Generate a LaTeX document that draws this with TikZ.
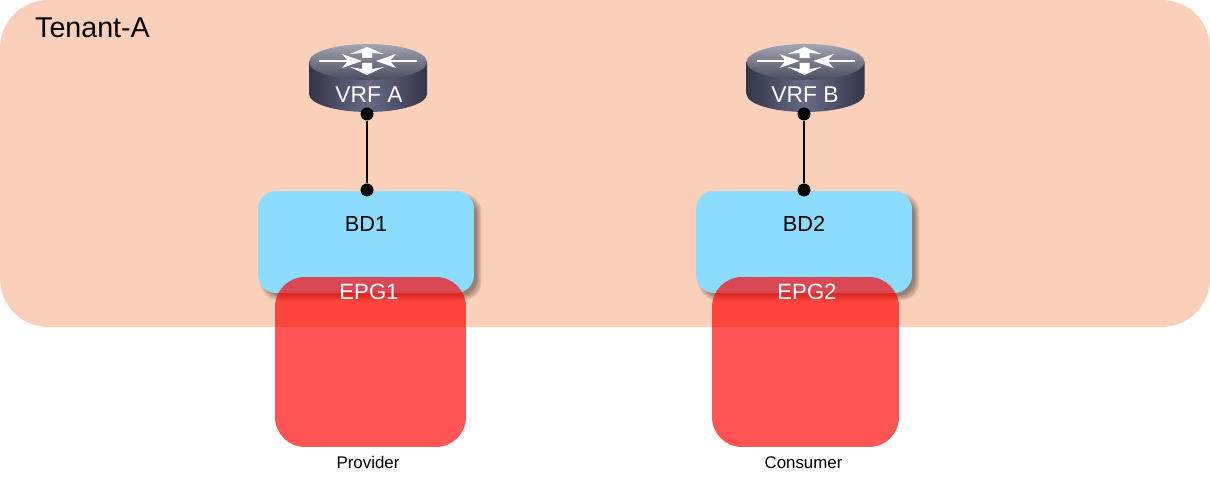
\documentclass[tikz,border=0pt]{standalone}
\usepackage{fontspec}
\setmainfont{Liberation Sans}
\definecolor{tenantfill}{HTML}{FBD0BB}
\definecolor{bdfill}{HTML}{8CDCFF}
\definecolor{epgfill}{HTML}{FF0000}
\definecolor{vrfdark}{HTML}{34364A}
\definecolor{vrfmid}{HTML}{666A85}
\definecolor{vrftop}{HTML}{A3A5B3}
\definecolor{vrfbot}{HTML}{4A4C60}
\tikzset{
  tenantbox/.style={rectangle, fill=tenantfill, rounded corners=0.96cm, minimum width=24.2cm, minimum height=6.54cm, inner sep=0pt},
  bdbox/.style={rectangle, fill=bdfill, rounded corners=0.36cm, minimum width=4.32cm, minimum height=2.04cm, inner sep=0pt},
  bdshade/.style={rectangle, fill=black, fill opacity=0.08, rounded corners=0.36cm, inner sep=0pt, minimum height=2.04cm},
  epgbox/.style={rectangle, fill=epgfill, fill opacity=0.67, rounded corners=0.6cm, minimum height=3.4cm, inner sep=0pt},
  whitetxt/.style={text=white, font=\fontsize{12.6}{14}\selectfont, inner sep=0pt},
  vrftxt/.style={text=white, font=\fontsize{13}{15}\selectfont, inner sep=0pt},
  blacktxt/.style={text=black, font=\fontsize{12.4}{14}\selectfont, inner sep=0pt},
  smalltxt/.style={text=black, font=\fontsize{9.6}{12}\selectfont, inner sep=0pt},
  dotnode/.style={circle, fill=black, minimum size=0.26cm, inner sep=0pt},
  vrficon/.pic={
    % side of the cylinder
    \path [left color=vrfdark, right color=vrfdark, middle color=vrfmid]
      (-59,0) -- (-59,32) arc [start angle=180, end angle=0, x radius=59, y radius=18] -- (59,0) -- cycle;
    \path [top color=vrftop, bottom color=vrfbot] (0,0) ellipse [x radius=59, y radius=18];
    % the four arrows
    \draw [white, line width=0.05cm] (-49,-1) -- (-15,-1);
    \fill [white] (-6,-1) -- (-26,-8) -- (-20,-1) -- (-26,6) -- cycle;
    \draw [white, line width=0.05cm] (49,-1) -- (17,-1);
    \fill [white] (8,-1) -- (28,-8) -- (22,-1) -- (28,6) -- cycle;
    \fill [white] (-1,-15) -- (-18,-8) -- (-6,-9) -- (-6,-4) -- (4,-4) -- (4,-9) -- (16,-8) -- cycle;
    \fill [white] (-1,13) -- (-18,5) -- (-6,7) -- (-6,1) -- (4,1) -- (4,7) -- (16,5) -- cycle;
  }
}
\begin{document}
\begin{tikzpicture}[x=0.02cm, y=-0.02cm]
\useasboundingbox (0,0) rectangle (1210,482);
\node [tenantbox] (tenant) at (605,163.5) {};
\node [font=\fontsize{16.3}{18}\selectfont, inner sep=0pt] (tenantlabel) at (92.5,28) {Tenant-A};

% shadow of each bd box
\foreach \w/\h in {4.42/2.14, 4.38/2.10, 4.34/2.06, 4.30/2.02, 4.26/1.98, 4.22/1.94} {
  \node [bdshade, minimum width=\w cm, minimum height=\h cm] at (371,247) {};
  \node [bdshade, minimum width=\w cm, minimum height=\h cm] at (809,247) {};
}

\node [bdbox] (bd1) at (366,242) {};
\node [bdbox] (bd2) at (804,242) {};
\node [blacktxt] (bd1label) at (366,224) {BD1};
\node [blacktxt] (bd2label) at (804,224) {BD2};

\node [epgbox, minimum width=3.82cm] (epg1) at (370.5,362) {};
\node [epgbox, minimum width=3.74cm] (epg2) at (805.5,362) {};
\node [whitetxt] (epg1label) at (369,292) {EPG1};
\node [whitetxt] (epg2label) at (807,292) {EPG2};

\pic at (368,62) {vrficon};
\pic at (805.5,62) {vrficon};
\node [vrftxt] (vrfalabel) at (369,95) {VRF A};
\node [vrftxt] (vrfblabel) at (805,95) {VRF B};

\node [dotnode] (vrfadot) at (367,114) {};
\node [dotnode] (bd1dot) at (367,190) {};
\node [dotnode] (vrfbdot) at (804,114) {};
\node [dotnode] (bd2dot) at (804,190) {};
\draw [black, line width=0.04cm] (vrfadot) -- (bd1dot);
\draw [black, line width=0.04cm] (vrfbdot) -- (bd2dot);

\node [smalltxt] (provider) at (368,462) {Provider};
\node [smalltxt] (consumer) at (803.5,462.5) {Consumer};
\end{tikzpicture}
\end{document}
